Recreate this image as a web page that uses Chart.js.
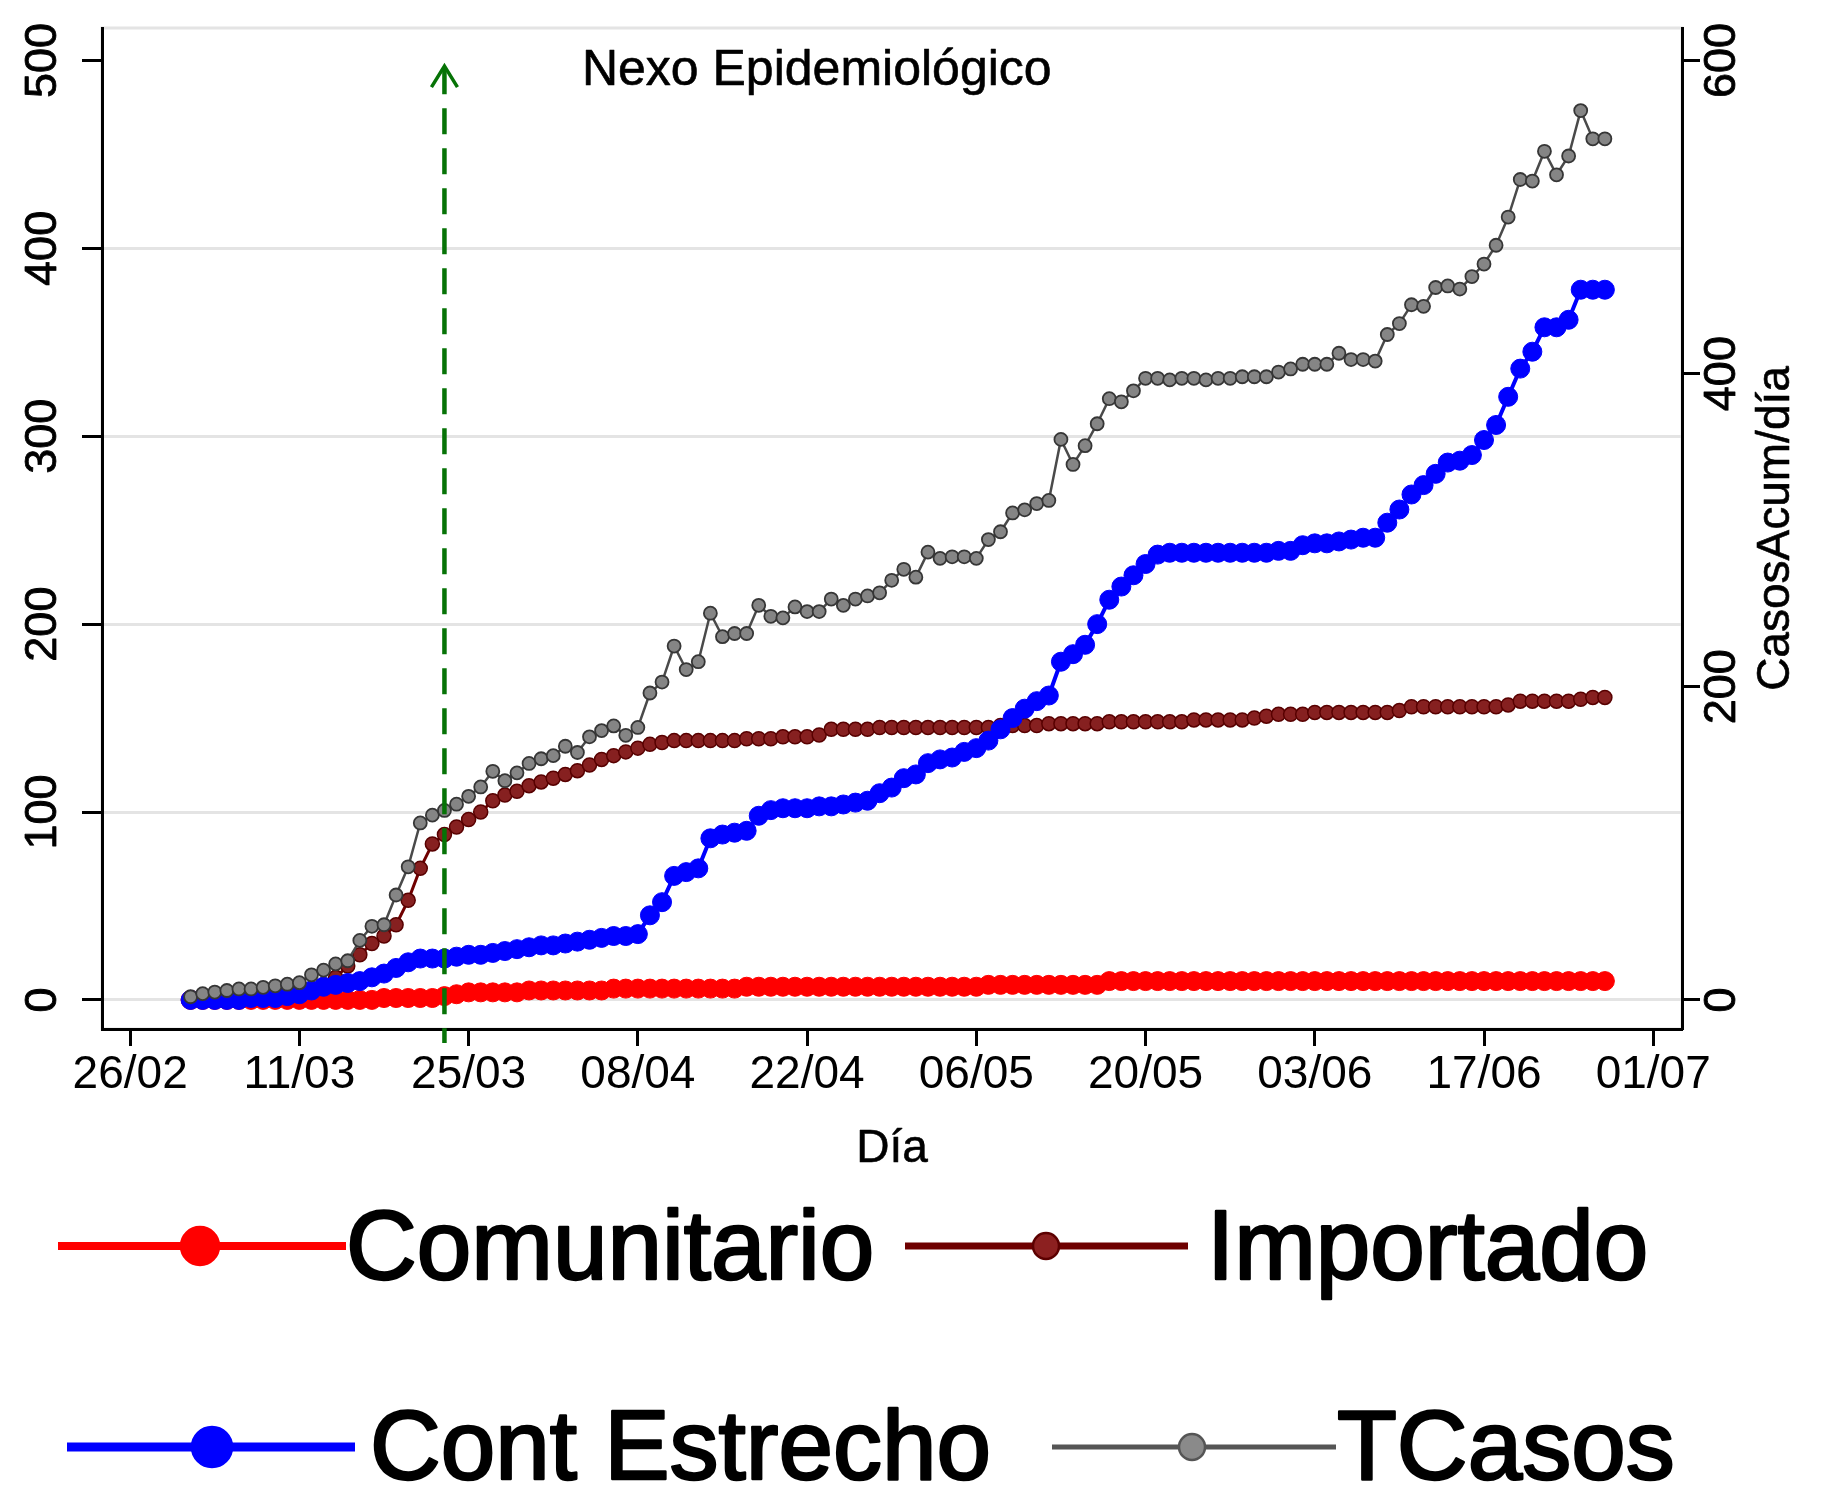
<!DOCTYPE html>
<html>
<head>
<meta charset="utf-8">
<script src="https://cdn.jsdelivr.net/npm/chart.js@4.4.1/dist/chart.umd.min.js"></script>
<style>
html,body{margin:0;padding:0;background:#fff;}
#wrap{position:relative;width:1823px;height:1490px;background:#fff;}
canvas{display:block;}
</style>
</head>
<body>
<div id="wrap"><canvas id="c" width="1823" height="1490" style="width:1823px;height:1490px"></canvas></div>
<script>
// ---------- DATA ----------
const fechas = [
 '02/03','03/03','04/03','05/03','06/03','07/03','08/03','09/03','10/03','11/03',
 '12/03','13/03','14/03','15/03','16/03','17/03','18/03','19/03','20/03','21/03',
 '22/03','23/03','24/03','25/03','26/03','27/03','28/03','29/03','30/03','31/03',
 '01/04','02/04','03/04','04/04','05/04','06/04','07/04','08/04','09/04','10/04',
 '11/04','12/04','13/04','14/04','15/04','16/04','17/04','18/04','19/04','20/04',
 '21/04','22/04','23/04','24/04','25/04','26/04','27/04','28/04','29/04','30/04',
 '01/05','02/05','03/05','04/05','05/05','06/05','07/05','08/05','09/05','10/05',
 '11/05','12/05','13/05','14/05','15/05','16/05','17/05','18/05','19/05','20/05',
 '21/05','22/05','23/05','24/05','25/05','26/05','27/05','28/05','29/05','30/05',
 '31/05','01/06','02/06','03/06','04/06','05/06','06/06','07/06','08/06','09/06',
 '10/06','11/06','12/06','13/06','14/06','15/06','16/06','17/06','18/06','19/06',
 '20/06','21/06','22/06','23/06','24/06','25/06','26/06','27/06'
];

const comunitario = [
 0,0,0,0,0,0,0,0,0,0,
 0,0,0,0,0,0,1,1,1,1,
 1,2,3,4,4,4,4,4,5,5,
 5,5,5,5,5,6,6,6,6,6,
 6,6,6,6,6,6,7,7,7,7,
 7,7,7,7,7,7,7,7,7,7,
 7,7,7,7,7,7,8,8,8,8,
 8,8,8,8,8,8,10,10,10,10,
 10,10,10,10,10,10,10,10,10,10,
 10,10,10,10,10,10,10,10,10,10,
 10,10,10,10,10,10,10,10,10,10,
 10,10,10,10,10,10,10,10
];

const importado = [
 0,1,1,1,1,2,2,2,2,3,
 5,8,12,18,24,30,34,40,53,70,
 83,88,92,96,100,106,109,111,114,116,
 118,120,122,125,128,130,132,134,136,137,
 138,138,138,138,138,138,139,139,139,140,
 140,140,141,144,144,144,144,145,145,145,
 145,145,145,145,145,145,145,146,146,146,
 146,147,147,147,147,147,148,148,148,148,
 148,148,148,149,149,149,149,149,150,151,
 152,152,152,153,153,153,153,153,153,153,
 154,156,156,156,156,156,156,156,156,157,
 159,159,159,159,159,160,161,161
];

const contEstrecho = [
 0,0,0,0,0,1,1,1,2,3,
 5,7,8,9,10,12,14,17,20,22,
 22,22,23,24,24,25,26,27,28,29,
 29,30,31,32,33,34,34,35,45,52,
 66,68,70,86,88,89,90,98,101,102,
 102,102,103,103,104,105,106,110,113,118,
 120,126,128,129,132,134,138,144,150,155,
 159,162,180,184,189,200,213,220,226,232,
 237,238,238,238,238,238,238,238,238,238,
 239,239,242,243,243,244,245,246,246,254,
 261,269,274,280,286,287,290,298,306,321,
 336,345,358,358,362,378,378,378
];

// TCasos is read on the right axis (CasosAcum/día)
const tCasos = [
 2,4,5,6,7,7,8,9,10,11,
 16,19,23,25,38,47,48,67,85,113,
 118,121,125,130,136,146,140,145,151,154,
 156,162,158,168,172,175,169,174,196,203,
 226,211,216,247,232,234,234,252,245,244,
 251,248,248,256,252,256,258,260,268,275,
 270,286,282,283,283,282,294,299,311,313,
 317,319,358,342,354,368,384,382,389,397,
 397,396,397,397,396,397,397,398,398,398,
 401,403,406,406,406,413,409,409,408,425,
 432,444,443,455,456,454,462,470,482,500,
 524,523,542,527,539,568,550,550
];

const seriesNames = ['Comunitario','Importado','Cont Estrecho','TCasos'];
const xTickLabels = ['26/02','11/03','25/03','08/04','22/04','06/05','20/05','03/06','17/06','01/07'];
const yLeftTicks = [0,100,200,300,400,500];
const yRightTicks = [0,200,400,600];
const xTitle = 'Día';
const yRightTitle = 'CasosAcum/día';
const annotText = 'Nexo Epidemiológico';
const annotDate = '23/03';

// ---------- helpers ----------
const BASE = Date.UTC(2020,1,26);
function dayOf(s){ const [d,m] = s.split('/').map(Number); return (Date.UTC(2020,m-1,d)-BASE)/864e5; }
const xTickDays = xTickLabels.map(dayOf);
const pts = arr => arr.map((v,i)=>({x: dayOf(fechas[i]), y: v}));

// ---------- layout constants ----------
const X_MIN = -2.33, X_MAX = 128.38;
const YL_MIN = -15.5, YL_MAX = 517.3;
const R_FACTOR = 1.2;
const FONT = '"Liberation Sans", Arial, sans-serif';

function heavyText(ctx, txt, x, y, sw){
  ctx.fillText(txt, x, y);
  if (sw > 0){ ctx.lineWidth = sw; ctx.strokeStyle = ctx.fillStyle; ctx.lineJoin = 'round'; ctx.strokeText(txt, x, y); }
}

const deco = {
  id: 'deco',
  beforeDraw(chart){
    const {ctx, chartArea:a} = chart;
    ctx.save();
    ctx.fillStyle = '#fff';
    ctx.fillRect(0,0,chart.width,chart.height);
    ctx.strokeStyle = '#e4e4e4';
    ctx.lineWidth = 3;
    ctx.strokeRect(a.left, a.top, a.right-a.left, a.bottom-a.top);
    ctx.restore();
  },
  afterDraw(chart){
    const {ctx, chartArea:a} = chart;
    const xs = chart.scales.x, yl = chart.scales.y, yr = chart.scales.y2;
    ctx.save();
    ctx.fillStyle = '#000';
    // left / right tick labels (rotated)
    ctx.font = '45px ' + FONT;
    ctx.textAlign = 'center'; ctx.textBaseline = 'middle';
    yLeftTicks.forEach(v=>{
      const py = yl.getPixelForValue(v);
      ctx.save(); ctx.translate(44, py); ctx.rotate(-Math.PI/2); heavyText(ctx, String(v),0,0,0.8); ctx.restore();
    });
    yRightTicks.forEach(v=>{
      const py = yr.getPixelForValue(v);
      ctx.save(); ctx.translate(1723, py); ctx.rotate(-Math.PI/2); heavyText(ctx, String(v),0,0,0.8); ctx.restore();
    });
    // right axis title
    ctx.font = '46px ' + FONT;
    ctx.save(); ctx.translate(1776, (a.top+a.bottom)/2); ctx.rotate(-Math.PI/2); heavyText(ctx, yRightTitle,0,0,0.6); ctx.restore();
    // x title
    heavyText(ctx, xTitle, (a.left+a.right)/2, 1149, 0.6);

    // green dashed arrow
    const ax = xs.getPixelForValue(dayOf(annotDate));
    const yTop = yl.getPixelForValue(497);
    const yBot = yl.getPixelForValue(-23);
    ctx.strokeStyle = '#067306';
    ctx.lineWidth = 4.5;
    ctx.setLineDash([26,14]);
    ctx.beginPath(); ctx.moveTo(ax, yTop+2); ctx.lineTo(ax, yBot); ctx.stroke();
    ctx.setLineDash([]);
    ctx.lineWidth = 3.5;
    ctx.lineJoin = 'miter';
    ctx.beginPath(); ctx.moveTo(ax-13, yTop+21); ctx.lineTo(ax, yTop); ctx.lineTo(ax+13, yTop+21); ctx.stroke();

    // annotation text
    ctx.font = '50px ' + FONT;
    ctx.textBaseline = 'alphabetic';
    ctx.fillStyle = '#000';
    heavyText(ctx, annotText, xs.getPixelForValue(56.8), yl.getPixelForValue(486.7), 0.6);

    // legend
    const items = [
      {i:0, x0:58,  x1:346,  mx:200,  y:1246, r:19, lw:8, fill:'#ff0000', stroke:'#ff0000', line:'#ff0000', tx:346,  base:1279},
      {i:1, x0:905, x1:1188, mx:1046, y:1246, r:13, lw:7, fill:'#8c2020', stroke:'#5c0000', line:'#6e0000', tx:1207, base:1279},
      {i:2, x0:67,  x1:355,  mx:212,  y:1447, r:20, lw:9, fill:'#0000ff', stroke:'#0000ff', line:'#0000ff', tx:370,  base:1479},
      {i:3, x0:1052,x1:1336, mx:1192, y:1447, r:13, lw:5, fill:'#8a8a8a', stroke:'#555555', line:'#555555', tx:1337, base:1479}
    ];
    items.forEach(it=>{
      ctx.strokeStyle = it.line; ctx.lineWidth = it.lw; ctx.lineCap='butt';
      ctx.beginPath(); ctx.moveTo(it.x0, it.y); ctx.lineTo(it.x1, it.y); ctx.stroke();
      ctx.beginPath(); ctx.arc(it.mx, it.y, it.r, 0, Math.PI*2);
      ctx.fillStyle = it.fill; ctx.fill();
      ctx.lineWidth = 2.5; ctx.strokeStyle = it.stroke; ctx.stroke();
      ctx.font = '98px ' + FONT;
      ctx.textAlign = 'left'; ctx.textBaseline = 'alphabetic';
      ctx.fillStyle = '#000';
      heavyText(ctx, seriesNames[it.i], it.tx, it.base, 2.5);
    });
    ctx.restore();
  }
};

const cfg = {
  type: 'line',
  data: {
    datasets: [
      { label: seriesNames[3], data: pts(tCasos), yAxisID: 'y2', order: 0,
        borderColor: '#4a4a4a', borderWidth: 2.5, pointRadius: 6.5, pointBackgroundColor: '#858585',
        pointBorderColor: '#363636', pointBorderWidth: 1.8, tension: 0 },
      { label: seriesNames[2], data: pts(contEstrecho), yAxisID: 'y', order: 1,
        borderColor: '#0000ff', borderWidth: 4, pointRadius: 9.5, pointBackgroundColor: '#0000ff',
        pointBorderColor: '#0000ff', pointBorderWidth: 1, tension: 0 },
      { label: seriesNames[1], data: pts(importado), yAxisID: 'y', order: 2,
        borderColor: '#700000', borderWidth: 3, pointRadius: 7, pointBackgroundColor: '#862020',
        pointBorderColor: '#580000', pointBorderWidth: 1.5, tension: 0 },
      { label: seriesNames[0], data: pts(comunitario), yAxisID: 'y', order: 3,
        borderColor: '#ff0000', borderWidth: 4, pointRadius: 9.5, pointBackgroundColor: '#ff0000',
        pointBorderColor: '#ff0000', pointBorderWidth: 1, tension: 0 }
    ]
  },
  options: {
    responsive: false, animation: false, devicePixelRatio: 1,
    layout: { padding: { top: 28, left: 0, right: 0, bottom: 0 } },
    plugins: { legend: { display: false }, tooltip: { enabled: false } },
    scales: {
      x: {
        type: 'linear', min: X_MIN, max: X_MAX,
        afterBuildTicks: s => { s.ticks = xTickDays.map(v=>({value:v})); },
        afterFit: s => { s.height = 461; },
        ticks: { font: { size: 46, family: FONT }, color: '#000', padding: 2, maxRotation: 0, minRotation: 0,
          callback: v => { const k = xTickDays.indexOf(v); return k >= 0 ? xTickLabels[k] : ''; } },
        grid: { display: true, drawOnChartArea: false, drawTicks: true, tickLength: 17, tickWidth: 3, tickColor: '#000' },
        border: { display: true, color: '#000', width: 3 }
      },
      y: {
        type: 'linear', position: 'left', min: YL_MIN, max: YL_MAX,
        afterBuildTicks: s => { s.ticks = yLeftTicks.map(v=>({value:v})); },
        afterFit: s => { s.width = 102; },
        ticks: { display: false },
        grid: { display: true, drawOnChartArea: true, lineWidth: 3,
          color: c => (c.tick && c.tick.value === 500) ? 'rgba(0,0,0,0)' : '#e4e4e4',
          drawTicks: true, tickLength: 20, tickWidth: 3, tickColor: '#000' },
        border: { display: true, color: '#000', width: 3 }
      },
      y2: {
        type: 'linear', position: 'right', min: YL_MIN*R_FACTOR, max: YL_MAX*R_FACTOR,
        afterBuildTicks: s => { s.ticks = yRightTicks.map(v=>({value:v})); },
        afterFit: s => { s.width = 141; },
        ticks: { display: false },
        grid: { display: true, drawOnChartArea: false, drawTicks: true, tickLength: 18, tickWidth: 3, tickColor: '#000' },
        border: { display: true, color: '#000', width: 3 }
      }
    }
  },
  plugins: [deco]
};

new Chart(document.getElementById('c'), cfg);
</script>
</body>
</html>
